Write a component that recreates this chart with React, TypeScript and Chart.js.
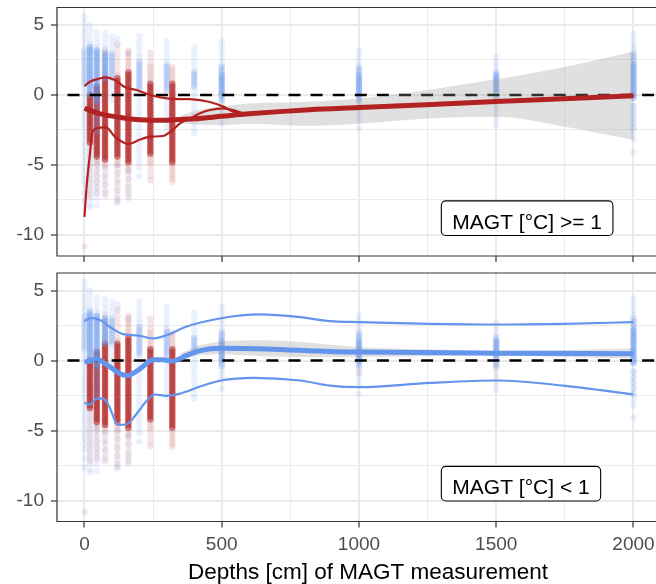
import { useEffect, useRef } from "react";
import { Chart, registerables } from "chart.js";

Chart.register(...registerables);

// ---------------- axes / text ----------------
const xTicks = [0, 250, 500, 750, 1000, 1250, 1500, 1750, 2000];
const xMajor = [0, 500, 1000, 1500, 2000];
const yTicks = [-10, -7.5, -5, -2.5, 0, 2.5, 5];
const yMajor = [-10, -5, 0, 5];
const xRange = [-100, 2082];
const yRange = [-11.5, 6.25];
const xTitle = "Depths [cm] of MAGT measurement";
const topLabel = "MAGT [°C] >= 1";
const bottomLabel = "MAGT [°C] < 1";
const labelAt = [1300, -8.8];

// ---------------- scatter (same observations in both panels) ----------------
const redDenseCols: [number, number[]][] = [
  [20, [0, -0.2, -0.4, -0.6, -0.8, -1, -1.2, -1.4, -1.6, -1.8, -2, -2.2, -2.4, -2.6, -2.8, -3, -3.2, -3.4]],
  [45, [0.6, 0.4, 0.2, 0, -0.2, -0.4, -0.6, -0.8, -1, -1.2, -1.4, -1.6, -1.8, -2, -2.2, -2.4, -2.6, -2.8, -3, -3.2, -3.4, -3.6, -3.8, -4, -4.2, -4.4]],
  [75, [1.2, 1, 0.8, 0.6, 0.4, 0.2, 0, -0.2, -0.4, -0.6, -0.8, -1, -1.2, -1.4, -1.6, -1.8, -2, -2.2, -2.4, -2.6, -2.8, -3, -3.2, -3.4, -3.6, -3.8, -4, -4.2, -4.4, -4.6]],
  [120, [1.2, 1, 0.8, 0.6, 0.4, 0.2, 0, -0.2, -0.4, -0.6, -0.8, -1, -1.2, -1.4, -1.6, -1.8, -2, -2.2, -2.4, -2.6, -2.8, -3, -3.2, -3.4, -3.6, -3.8, -4, -4.2, -4.4]],
  [160, [1.6, 1.4, 1.2, 1, 0.8, 0.6, 0.4, 0.2, 0, -0.2, -0.4, -0.6, -0.8, -1, -1.2, -1.4, -1.6, -1.8, -2, -2.2, -2.4, -2.6, -2.8, -3, -3.2, -3.4, -3.6, -3.8, -4, -4.2, -4.4, -4.6, -4.8]],
  [240, [0.8, 0.6, 0.4, 0.2, 0, -0.2, -0.4, -0.6, -0.8, -1, -1.2, -1.4, -1.6, -1.8, -2, -2.2, -2.4, -2.6, -2.8, -3, -3.2, -3.4, -3.6, -3.8, -4, -4.2]],
  [320, [0.8, 0.6, 0.4, 0.2, 0, -0.2, -0.4, -0.6, -0.8, -1, -1.2, -1.4, -1.6, -1.8, -2, -2.2, -2.4, -2.6, -2.8, -3, -3.2, -3.4, -3.6, -3.8, -4, -4.2, -4.4, -4.6, -4.8]],
];

const redFaintCols: [number, number[]][] = [
  [0, [-10.8]],
  [20, [-3.6, -4.0, -4.4, -4.8, -5.2, -5.6, -6.0, -6.4, -6.8, -7.2]],
  [45, [-4.6, -4.8, -5.0, -5.4, -5.8, -6.2, -6.6, -7.0]],
  [75, [3.2, 2.8, 2.4, 2.0, 1.6, 1.4, -4.8, -5.0, -5.2, -5.6, -6.0, -6.4, -6.8, -7.2]],
  [120, [3.6, 3.2, 2.8, 2.4, 2.0, 1.6, 1.4, -4.6, -4.8, -5.0, -5.2, -5.6, -6.0, -6.4, -6.8, -7.2, -7.6]],
  [160, [3.2, 3.0, 2.8, 2.6, 2.4, 2.2, 2.0, 1.8, -5.0, -5.2, -5.4, -5.6, -6.0, -6.4, -6.8, -7.2]],
  [240, [3.0, 2.6, 2.2, 2.0, 1.8, 1.6, 1.4, 1.2, 1.0, -4.4, -4.6, -4.8, -5.0, -5.4, -5.8, -6.1]],
  [320, [2.0, 1.8, 1.6, 1.4, 1.2, 1.0, -5.0, -5.2, -5.4, -5.6, -5.8, -6.0, -6.2]],
  [1000, [-0.9]],
  [1500, [-0.5]],
];

const blueDenseCols: [number, number[]][] = [
  [20, [3.4, 3.2, 3.0, 2.8, 2.6, 2.4, 2.2, 2.0, 1.8, 1.6, 1.4, 1.2, 1.0, 0.8, 0.6, 0.4, 0.2, 0.0]],
  [45, [3.2, 3.0, 2.8, 2.6, 2.4, 2.2, 2.0, 1.8, 1.6, 1.4, 1.2, 1.0, 0.8, 0.6, 0.4, 0.2, 0.0, -0.2, -0.4]],
  [75, [3.0, 2.8, 2.6, 2.4, 2.2, 2.0, 1.8, 1.6, 1.4, 1.2]],
  [500, [1.4, 1.2, 1.0, 0.8, 0.6, 0.4, 0.2, 0.0]],
  [1000, [1.4, 1.2, 1.0, 0.8, 0.6, 0.4, 0.2, 0.0]],
  [1500, [1.4, 1.2, 1.0, 0.8, 0.6, 0.4, 0.2]],
  [2000, [2.2, 2.0, 1.8, 1.6, 1.4, 1.2, 1.0, 0.8, 0.6, 0.4, 0.2, 0.0, -0.2]],
];

const blueMidCols: [number, number[]][] = [
  [0, [3.2, 2.8, 2.4, 2.0, 1.6, 1.2, 0.8]],
  [45, [-0.6, -1.0, -1.4, -1.8, -2.2, -2.6]],
  [100, [3.0, 2.8, 2.6, 2.4, 2.2, 2.0, 1.8, 1.6, 1.4, 1.2]],
  [200, [2.4, 2.2, 2.0, 1.8, 1.6, 1.4, 1.2, 1.0, 0.8, 0.6, 0.4]],
  [300, [2.2, 2.0, 1.8, 1.6, 1.4, 1.2, 1.0, 0.8, 0.6, 0.4]],
  [400, [1.6, 1.4, 1.2, 1.0, 0.8, 0.6]],
  [500, [2.0, 1.8, 1.6, -0.2, -0.4]],
  [1000, [2.0, 1.8, 1.6, -0.2, -0.4]],
  [1500, [1.6, -0.1, -0.3]],
  [2000, [3.0, 2.8, 2.6, 2.4, -0.8, -1.2, -1.6, -2.0, -2.4]],
];

const blueFaintCols: [number, number[]][] = [
  [0, [5.6, 5.2, 4.8, 4.4, 4.0, 3.6, 3.0, 2.6, 2.2, 1.8, 1.4, 1.0, 0.4, 0.0, -0.4, -0.8, -1.2, -1.6, -2.0, -2.4, -2.8, -3.2, -3.6, -4.0, -4.4, -4.8, -5.2, -5.6, -6.0, -6.4, -7.0, -7.6]],
  [20, [5.0, 4.6, 4.2, 3.8, 3.6, -0.2, -0.6, -1.0, -1.4, -1.8, -2.2, -2.6, -3.0, -3.4, -3.8, -4.2, -4.6, -5.0, -5.4, -5.8, -6.2, -6.6, -7.0, -7.4, -7.8, -8.0]],
  [45, [4.5, 4.1, 3.7, 3.4, -3.0, -3.4, -3.8, -4.2, -4.6, -5.0, -5.4, -5.8, -6.2, -6.6, -7.0, -7.4, -7.9]],
  [75, [4.4, 4.0, 3.6, 3.3, -4.6, -5.2, -5.8, -6.4, -7.0]],
  [100, [4.2, 3.8, 3.4, 0.8, 0.4, 0.0, -0.4]],
  [120, [4.0, 3.6, -5.0, -5.6, -6.2, -6.8, -7.4, -7.7]],
  [160, [3.0, -5.4, -6.0, -6.6, -7.0, -7.4]],
  [200, [4.2, 3.8, 3.4, 3.0, 2.7, 0.0, -0.4, -0.8, -1.2, -1.6, -2.0, -2.4, -2.8, -3.2, -3.6, -4.0, -4.4, -4.8, -5.2, -5.8]],
  [300, [3.8, 3.4, 3.0, 2.6, 0.2, -0.2, -0.6, -1.0, -1.4, -1.8, -2.2, -2.6]],
  [400, [3.4, 3.0, 2.6, 2.2, 1.8, 0.4, 0.0, -0.4, -0.8, -1.2, -1.6, -2.0, -2.4, -2.7]],
  [500, [3.8, 3.4, 3.0, 2.6, 2.2, -0.6, -1.0, -1.4, -2.0]],
  [1000, [3.2, 2.8, 2.4, -0.6, -1.0, -1.4, -1.8, -2.4]],
  [1500, [2.7, 2.3, 1.9, -0.5, -0.9, -1.3, -1.7, -2.1]],
  [2000, [4.4, 4.0, 3.6, 3.3, -2.8, -3.2, -4.1]],
];

// ---------------- smooth fits: top panel (MAGT >= 1, red) ----------------
const topMeanDepth = [0, 20, 45, 75, 120, 160, 200, 240, 300, 320, 400, 500, 600, 822, 1000, 1500, 2000];
const topMeanVal = [-0.95, -1.1, -1.28, -1.42, -1.57, -1.7, -1.77, -1.8, -1.8, -1.78, -1.7, -1.52, -1.34, -1.05, -0.9, -0.47, -0.05];

const topUpperDepth = [0, 20, 45, 78, 111, 148, 190, 240, 300, 348, 385, 457, 506, 542, 580, 800, 1000, 1500, 2000];
const topUpperVal = [0.64, 0.95, 1.12, 1.26, 1.07, 0.55, 0.36, 0.0, -0.24, -0.29, -0.3, -0.5, -0.83, -1.2, -1.36, -1.09, -0.91, -0.48, -0.06];

const topLowerDepth = [0, 8, 20, 30, 50, 78, 111, 160, 200, 240, 286, 318, 348, 385, 421, 457, 506, 554, 590, 800, 1000, 1500, 2000];
const topLowerVal = [-8.7, -6.5, -4.2, -2.6, -2.35, -2.3, -2.98, -3.5, -3.2, -2.98, -2.93, -2.55, -2.02, -1.67, -1.31, -1.07, -0.95, -1.15, -1.34, -1.1, -0.92, -0.49, -0.07];

const topBandDepth = [350, 400, 500, 600, 800, 1000, 1250, 1500, 1750, 2000];
const topBandHigh = [-1.5, -1.15, -0.8, -0.6, -0.5, -0.25, 0.36, 1.12, 2.0, 3.1];
const topBandLow = [-2.0, -2.1, -2.15, -2.05, -2.2, -2.05, -1.67, -1.55, -2.26, -3.2];

// ---------------- smooth fits: bottom panel (MAGT < 1, blue) ----------------
const botMeanDepth = [0, 20, 44, 70, 100, 129, 157, 202, 251, 287, 318, 372, 421, 497, 664, 894, 1000, 1500, 2000];
const botMeanVal = [-0.1, -0.05, 0.12, -0.15, -0.55, -0.95, -1.07, -0.6, 0.05, 0.05, -0.05, 0.36, 0.71, 0.88, 0.83, 0.64, 0.6, 0.52, 0.48];

const botUpperDepth = [0, 26, 60, 100, 140, 190, 251, 305, 365, 497, 639, 785, 894, 1000, 1258, 1500, 1744, 2000];
const botUpperVal = [2.81, 3.05, 2.86, 2.3, 1.88, 1.8, 1.58, 1.85, 2.38, 3.02, 3.29, 3.1, 2.81, 2.74, 2.62, 2.57, 2.62, 2.74];

const botLowerDepth = [0, 20, 44, 68, 88, 123, 154, 190, 226, 255, 300, 345, 421, 497, 615, 785, 894, 1000, 1258, 1500, 1744, 2000];
const botLowerVal = [-3.02, -3.15, -2.72, -2.7, -3.2, -4.6, -4.55, -3.8, -2.9, -2.43, -2.52, -2.38, -1.86, -1.43, -1.24, -1.43, -1.79, -1.9, -1.6, -1.43, -1.79, -2.43];

const botBandDepth = [350, 400, 500, 650, 800, 1000, 1250, 1500, 1750, 2000];
const botBandHigh = [0.5, 0.95, 1.35, 1.45, 1.3, 0.95, 0.8, 0.7, 0.75, 0.85];
const botBandLow = [-0.1, 0.35, 0.45, 0.3, 0.25, 0.25, 0.3, 0.35, 0.25, 0.15];

const zeroLine = [-100, 2100];

// ---------------- styling ----------------
const RED = "#B22222";
const BLUE = "#6495ED";
const FONT = '"Liberation Sans", Arial, Helvetica, sans-serif';

const pts = (cols: [number, number[]][]) => cols.flatMap(([d, ys]) => ys.map((y) => ({ x: d, y })));
const pairs = (xs: number[], ys: number[]) => xs.map((x, i) => ({ x, y: ys[i] }));

function scatterSet(cols: [number, number[]][], color: string, order: number) {
  return {
    data: pts(cols),
    showLine: false,
    pointRadius: 3.3,
    pointBackgroundColor: color,
    pointBorderWidth: 0,
    pointBorderColor: "rgba(0,0,0,0)",
    order,
  };
}

function lineSet(xs: number[], ys: number[], color: string, width: number, order: number) {
  return {
    data: pairs(xs, ys),
    borderColor: color,
    borderWidth: width,
    pointRadius: 0,
    fill: false,
    tension: 0.4,
    cubicInterpolationMode: "monotone",
    borderCapStyle: "butt",
    borderJoinStyle: "round",
    order,
  };
}

function buildConfig(which: "top" | "bottom", canvasH: number) {
  const isTop = which === "top";
  const col = isTop ? RED : BLUE;
  const datasets: any[] = [
    scatterSet(redFaintCols, "rgba(178,34,34,0.10)", 100),
    scatterSet(blueFaintCols, "rgba(100,149,237,0.12)", 99),
    scatterSet(redDenseCols, "rgba(178,34,34,0.58)", 98),
    scatterSet(blueMidCols, "rgba(100,149,237,0.25)", 97),
    scatterSet(blueDenseCols, "rgba(100,149,237,0.42)", 96),
    {
      data: pairs(zeroLine, [0, 0]),
      borderColor: "#000",
      borderWidth: 2.5,
      borderDash: [12, 10.1],
      borderDashOffset: 11.6,
      pointRadius: 0,
      fill: false,
      order: 60,
    },
    {
      data: pairs(isTop ? topBandDepth : botBandDepth, isTop ? topBandHigh : botBandHigh),
      borderWidth: 0,
      borderColor: "rgba(0,0,0,0)",
      backgroundColor: "rgba(153,153,153,0.3)",
      pointRadius: 0,
      fill: "+1",
      tension: 0.4,
      cubicInterpolationMode: "monotone",
      order: 45,
    },
    {
      data: pairs(isTop ? topBandDepth : botBandDepth, isTop ? topBandLow : botBandLow),
      borderWidth: 0,
      borderColor: "rgba(0,0,0,0)",
      pointRadius: 0,
      fill: false,
      tension: 0.4,
      cubicInterpolationMode: "monotone",
      order: 44,
    },
    lineSet(isTop ? topUpperDepth : botUpperDepth, isTop ? topUpperVal : botUpperVal, col, 2.2, 20),
    lineSet(isTop ? topLowerDepth : botLowerDepth, isTop ? topLowerVal : botLowerVal, col, 2.2, 19),
    lineSet(isTop ? topMeanDepth : botMeanDepth, isTop ? topMeanVal : botMeanVal, col, 5, 10),
  ];

  const label = isTop ? topLabel : bottomLabel;
  const xAxisH = isTop ? canvasH - 256 : canvasH - 255.5;

  const deco = {
    id: "panelDeco",
    afterDatasetsDraw(chart: any) {
      const { ctx, chartArea: a, scales } = chart;
      ctx.save();
      ctx.strokeStyle = "#333333";
      ctx.lineWidth = 1.2;
      ctx.beginPath();
      ctx.moveTo(a.right + 5, a.top);
      ctx.lineTo(a.left, a.top);
      ctx.lineTo(a.left, a.bottom);
      ctx.lineTo(a.right + 5, a.bottom);
      ctx.stroke();

      ctx.font = `21px ${FONT}`;
      const w = ctx.measureText(label).width;
      const x0 = scales.x.getPixelForValue(labelAt[0]);
      const yc = scales.y.getPixelForValue(labelAt[1]);
      const h = 34.6;
      const padX = 11;
      ctx.beginPath();
      (ctx as any).roundRect(x0, yc - h / 2, w + 2 * padX, h, 4.5);
      ctx.fillStyle = "#ffffff";
      ctx.fill();
      ctx.lineWidth = 1.1;
      ctx.strokeStyle = "#000000";
      ctx.stroke();
      ctx.fillStyle = "#000000";
      ctx.textBaseline = "alphabetic";
      ctx.textAlign = "left";
      ctx.fillText(label, x0 + padX, yc + 10.3);

      if (!isTop) {
        ctx.font = `22.5px ${FONT}`;
        ctx.textAlign = "center";
        ctx.fillText(xTitle, 368, 313);
      }
      ctx.restore();
    },
  };

  return {
    type: "line",
    data: { datasets },
    plugins: [deco],
    options: {
      animation: false,
      responsive: false,
      devicePixelRatio: 1,
      events: [],
      layout: { autoPadding: false, padding: { top: isTop ? 7.5 : 7, left: 0, right: 0, bottom: 0 } },
      plugins: { legend: { display: false }, tooltip: { enabled: false } },
      scales: {
        x: {
          type: "linear",
          min: xRange[0],
          max: xRange[1],
          afterBuildTicks: (s: any) => {
            s.ticks = xTicks.map((v) => ({ value: v }));
          },
          afterFit: (s: any) => {
            s.height = xAxisH;
            s.paddingLeft = 0;
            s.paddingRight = 0;
          },
          border: { display: false },
          grid: {
            color: "#EBEBEB",
            lineWidth: (c: any) => (xMajor.includes(c.tick?.value) ? 2 : 1.1),
            drawTicks: true,
            tickLength: 6,
            tickColor: (c: any) => (xMajor.includes(c.tick?.value) ? "#333333" : "rgba(0,0,0,0)"),
            tickWidth: 1.2,
          },
          ticks: {
            autoSkip: false,
            maxRotation: 0,
            padding: 6,
            color: "#4D4D4D",
            font: { family: FONT, size: 19 },
            callback: (v: any) => (!isTop && xMajor.includes(Number(v)) ? String(v) : ""),
          },
        },
        y: {
          type: "linear",
          min: yRange[0],
          max: yRange[1],
          afterBuildTicks: (s: any) => {
            s.ticks = yTicks.map((v) => ({ value: v }));
          },
          afterFit: (s: any) => {
            s.width = 57;
            s.paddingTop = 0;
            s.paddingBottom = 0;
          },
          border: { display: false },
          grid: {
            color: "#EBEBEB",
            lineWidth: (c: any) => (yMajor.includes(c.tick?.value) ? 2 : 1.1),
            drawTicks: true,
            tickLength: 6,
            tickColor: (c: any) => (yMajor.includes(c.tick?.value) ? "#333333" : "rgba(0,0,0,0)"),
            tickWidth: 1.2,
          },
          ticks: {
            autoSkip: false,
            padding: 7,
            color: "#4D4D4D",
            font: { family: FONT, size: 19 },
            callback: (v: any) => (yMajor.includes(Number(v)) ? String(v) : ""),
          },
        },
      },
    },
  };
}

function Panel({ which, top, height }: { which: "top" | "bottom"; top: number; height: number }) {
  const ref = useRef<HTMLCanvasElement>(null);
  useEffect(() => {
    const chart = new Chart(ref.current as HTMLCanvasElement, buildConfig(which, height) as any);
    return () => chart.destroy();
  }, [which, height]);
  return (
    <canvas
      ref={ref}
      width={656}
      height={height}
      style={{ position: "absolute", left: 0, top, width: 656, height, display: "block" }}
    />
  );
}

export default function App() {
  return (
    <div
      style={{
        position: "fixed",
        left: 0,
        top: 0,
        width: 656,
        height: 584,
        background: "#ffffff",
        overflow: "hidden",
      }}
    >
      <Panel which="top" top={0} height={266} />
      <Panel which="bottom" top={266} height={318} />
    </div>
  );
}
